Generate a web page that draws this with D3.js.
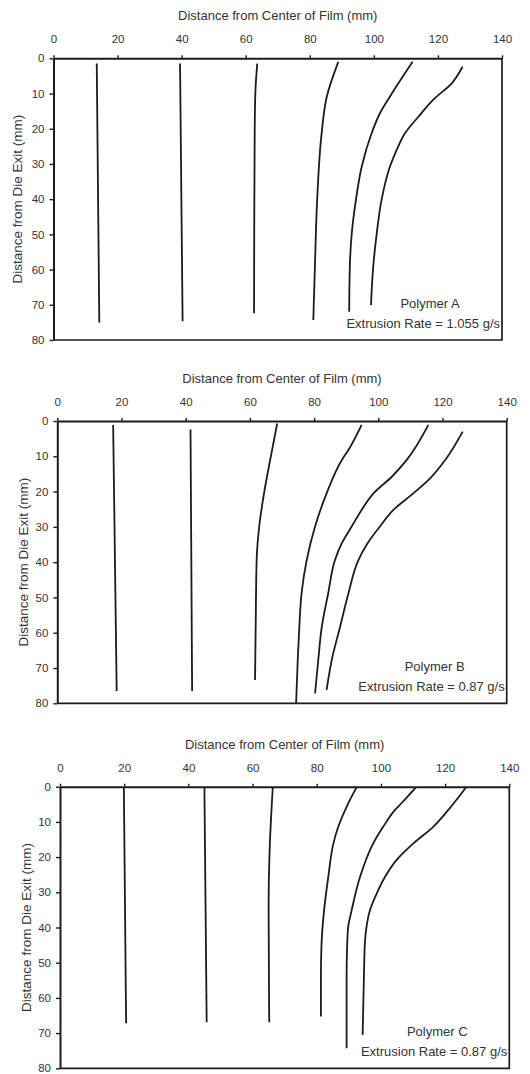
<!DOCTYPE html>
<html>
<head>
<meta charset="utf-8">
<script src="https://cdn.jsdelivr.net/npm/d3@7"></script>
<style>
  body { margin: 0; background: #fff; }
  svg { display: block; font-family: "Liberation Sans", Arial, sans-serif; }
</style>
</head>
<body>
<svg id="chart"></svg>
<script>
// Axis ticks (mm)
const xTicks = [0, 20, 40, 60, 80, 100, 120, 140];
const yTicks = [0, 10, 20, 30, 40, 50, 60, 70, 80];
const xTitle = "Distance from Center of Film (mm)";
const yTitle = "Distance from Die Exit (mm)";

// Each curve: [distance from centre, distance from die exit]
const polymerA = [
    [[13.5, 1.5], [14.3, 75]],
    [[39.5, 1.5], [40.3, 74.7]],
    [[63.6, 1.5], [63.0, 10], [62.8, 21.3], [62.6, 72.4]],
    [[88.9, 1], [85.3, 10.9], [83.7, 21.3], [82.3, 40.2], [81.6, 59.2], [81.1, 74.3]],
    [[112.1, 1], [105, 10.9], [101.9, 15.6], [99.3, 21.3], [96.2, 30.8], [94.4, 40.2], [93.1, 49.7], [92.5, 59.2], [92.3, 72]],
    [[127.7, 2.4], [124.3, 7.1], [118.5, 11.8], [113.9, 16.6], [109.7, 21.3], [107.1, 26.1], [105, 30.8], [102.4, 40.2], [100.9, 49.7], [99.8, 59.2], [99.1, 70.1]]
];
const polymerB = [
    [[17.4, 1.1], [18.5, 76.5]],
    [[41.5, 2.4], [42.0, 76.5]],
    [[68.5, 0.7], [66.3, 11.1], [64.4, 20.5], [62.9, 29.9], [62.1, 39.4], [61.8, 58.3], [61.6, 73.4]],
    [[94.8, 1.1], [90.7, 8.2], [88.6, 11.1], [83.9, 20.5], [80.3, 29.9], [77.7, 39.4], [76.1, 48.8], [75.4, 58.3], [74.9, 67.7], [74.4, 80]],
    [[115.6, 1.1], [108.8, 11.1], [104.2, 15.8], [98.5, 20.5], [94.8, 25.2], [91.7, 29.9], [88.6, 34.7], [86.5, 39.4], [84.4, 48.8], [82.4, 58.3], [81.3, 67.7], [80.3, 77.2]],
    [[126.3, 3], [120.8, 11.1], [116.6, 15.8], [110.9, 20.5], [104.7, 25.2], [100.5, 29.9], [96.6, 34.7], [93.8, 39.4], [90.7, 48.8], [88.1, 58.3], [85.5, 67.7], [83.9, 76.2]]
];
const polymerC = [
    [[19.9, 0.2], [20.6, 67.2]],
    [[45.0, 0.2], [45.7, 66.9]],
    [[66.3, 0.2], [65.4, 16.1], [65.0, 35], [65.2, 66.9]],
    [[92.4, 0.2], [89.3, 5.7], [86.7, 11.4], [85.2, 16.1], [83.6, 25.6], [82.3, 35], [81.5, 44.5], [81.3, 54], [81.3, 65.3]],
    [[110.9, 0.2], [106.4, 4.7], [104.4, 6.6], [100.7, 11.4], [97.6, 16.1], [93.5, 25.6], [90.9, 35], [89.8, 39.8], [89.5, 44.5], [89.3, 54], [89.3, 74.3]],
    [[126.5, 0.2], [121, 6.6], [116.3, 11.4], [110.1, 16.1], [104.9, 20.8], [101.3, 25.6], [98.7, 30.3], [96.6, 35], [95.5, 39.8], [95.0, 44.5], [94.7, 54], [94.3, 70.5]]
];
const polymerNames = ["Polymer A", "Polymer B", "Polymer C"];
const extrusionRates = ["Extrusion Rate = 1.055 g/s", "Extrusion Rate = 0.87 g/s", "Extrusion Rate = 0.87 g/s"];

function drawPanel(svg, curves, name, rate, box) {
    const x = d3.scaleLinear().domain([0, 140]).range([box.left, box.right]);
    const y = d3.scaleLinear().domain([0, 80]).range([box.top, box.bottom]);
    const ink = "#1c1c1c";
    const g = svg.append("g");

    // Frame (right + bottom)
    g.append("path")
        .attr("d", `M${x(140)},${y(0)}V${y(80)}H${x(0)}`)
        .attr("fill", "none")
        .attr("stroke", ink)
        .attr("stroke-width", 1.7);

    // Axes
    const xAxis = d3.axisTop(x).tickValues(xTicks).tickSize(3).tickPadding(12).tickSizeOuter(0);
    const yAxis = d3.axisLeft(y).tickValues(yTicks).tickSize(4).tickPadding(5).tickSizeOuter(0);
    const gx = g.append("g").attr("transform", `translate(0,${y(0)})`).call(xAxis);
    const gy = g.append("g").attr("transform", `translate(${x(0)},0)`).call(yAxis);
    [gx, gy].forEach(a => {
        a.select(".domain").attr("stroke", ink).attr("stroke-width", 2);
        a.selectAll(".tick line").attr("stroke", ink).attr("stroke-width", 1.4);
        a.selectAll(".tick text")
            .attr("fill", "#333")
            .style("font-size", "11.5px")
            .style("font-family", "'Liberation Sans', Arial, sans-serif");
    });

    // Titles
    g.append("text")
        .attr("x", (x(0) + x(140)) / 2)
        .attr("y", box.top - 38)
        .attr("text-anchor", "middle")
        .attr("fill", "#333")
        .style("font-size", "13px")
        .text(xTitle);
    g.append("text")
        .attr("transform", `translate(${box.left - box.ytitle},${(y(0) + y(80)) / 2}) rotate(-90)`)
        .attr("text-anchor", "middle")
        .attr("fill", "#333")
        .style("font-size", "13.5px")
        .text(yTitle);

    // Curves
    const line = d3.line()
        .x(d => x(d[0]))
        .y(d => y(d[1]))
        .curve(d3.curveMonotoneY);
    g.selectAll("path.curve")
        .data(curves)
        .join("path")
        .attr("class", "curve")
        .attr("d", line)
        .attr("fill", "none")
        .attr("stroke", ink)
        .attr("stroke-width", 1.8);

    // Annotation
    g.append("text")
        .attr("x", box.right - 72)
        .attr("y", box.bottom - 32)
        .attr("text-anchor", "middle")
        .attr("fill", "#333")
        .style("font-size", "13px")
        .text(name);
    g.append("text")
        .attr("x", box.right - 2)
        .attr("y", box.bottom - 12)
        .attr("text-anchor", "end")
        .attr("fill", "#333")
        .style("font-size", "13px")
        .text(rate);
}

const svg = d3.select("#chart").attr("width", 530).attr("height", 1074);
const boxes = [
    { left: 53.5, right: 502, top: 58.3, bottom: 340, ytitle: 32 },
    { left: 57.3, right: 506.7, top: 421, bottom: 703.3, ytitle: 29 },
    { left: 60, right: 509.3, top: 786.7, bottom: 1068.3, ytitle: 29 }
];
[polymerA, polymerB, polymerC].forEach((curves, i) => {
    drawPanel(svg, curves, polymerNames[i], extrusionRates[i], boxes[i]);
});
</script>
</body>
</html>
